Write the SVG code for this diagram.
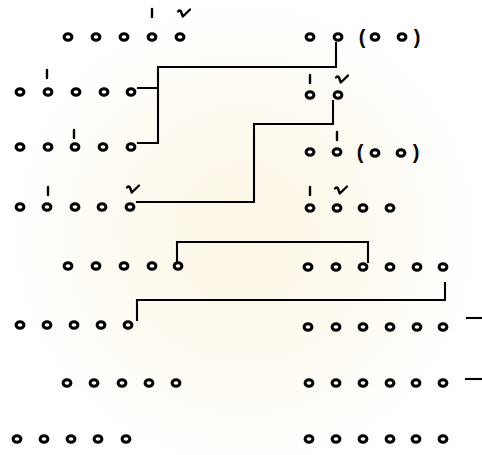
<svg xmlns="http://www.w3.org/2000/svg" width="482" height="455" viewBox="0 0 482 455">
<defs>
<style>
.c{fill:#fff;stroke:#000;stroke-width:3}
.w{fill:none;stroke:#000;stroke-width:2.1;stroke-linecap:square;stroke-linejoin:miter}
.m{fill:none;stroke:#000;stroke-width:2.4;stroke-linecap:round;stroke-linejoin:round}
.p{font-family:"Liberation Sans",Arial,sans-serif;font-size:20px;font-weight:bold;fill:#000;text-anchor:middle}
</style>
<radialGradient id="bg" cx="245" cy="235" r="240" gradientUnits="userSpaceOnUse">
<stop offset="0" stop-color="#fcf6e4"/>
<stop offset="0.6" stop-color="#fefbf3"/>
<stop offset="1" stop-color="#ffffff"/>
</radialGradient>
<ellipse id="o" class="c" rx="3.9" ry="3.3"/>
<path id="ek" class="m" d="M0,-4 V4"/>
<path id="tho" class="m" d="M-6,-1.5 Q-3.5,-4 -2.5,0 L-1.2,3.5 L6,-3.5"/>
</defs>
<rect width="482" height="455" fill="#fff"/>
<rect width="482" height="455" fill="url(#bg)"/>

<g id="connectors">
<path class="w" d="M336,43 V67 H158 V143 H138 M138,88 H158"/>
<path class="w" d="M333,101 V124 H254 V202 H137"/>
<path class="w" d="M177,261 V242 H368 V262"/>
<path class="w" d="M137,320 V300 H445 V283"/>
<path class="w" d="M467,318 H482"/>
<path class="w" d="M466,379 H482"/>
</g>

<g id="left-line-1">
<use href="#o" x="68" y="37"/><use href="#o" x="96" y="37"/><use href="#o" x="124" y="37"/><use href="#o" x="152" y="37"/><use href="#o" x="180" y="37"/>
<use href="#ek" x="152" y="13"/><use href="#tho" x="184" y="13"/>
</g>
<g id="left-line-2">
<use href="#o" x="20" y="92"/><use href="#o" x="48" y="92"/><use href="#o" x="76" y="92"/><use href="#o" x="104" y="92"/><use href="#o" x="131" y="92"/>
<use href="#ek" x="47" y="74"/>
</g>
<g id="left-line-3">
<use href="#o" x="20" y="147"/><use href="#o" x="48" y="147"/><use href="#o" x="75" y="147"/><use href="#o" x="103" y="147"/><use href="#o" x="131" y="147"/>
<use href="#ek" x="74" y="134"/>
</g>
<g id="left-line-4">
<use href="#o" x="20" y="207"/><use href="#o" x="47" y="207"/><use href="#o" x="75" y="207"/><use href="#o" x="102" y="207"/><use href="#o" x="130" y="207"/>
<use href="#ek" x="48" y="191"/><use href="#tho" x="133" y="189"/>
</g>
<g id="left-line-5">
<use href="#o" x="68" y="266"/><use href="#o" x="96" y="266"/><use href="#o" x="124" y="266"/><use href="#o" x="152" y="266"/><use href="#o" x="178" y="266"/>
</g>
<g id="left-line-6">
<use href="#o" x="20" y="325"/><use href="#o" x="47" y="325"/><use href="#o" x="74" y="325"/><use href="#o" x="101" y="325"/><use href="#o" x="128" y="325"/>
</g>
<g id="left-line-7">
<use href="#o" x="67" y="383"/><use href="#o" x="94" y="383"/><use href="#o" x="122" y="383"/><use href="#o" x="149" y="383"/><use href="#o" x="176" y="383"/>
</g>
<g id="left-line-8">
<use href="#o" x="17" y="439"/><use href="#o" x="44" y="439"/><use href="#o" x="71" y="439"/><use href="#o" x="98" y="439"/><use href="#o" x="126" y="439"/>
</g>

<g id="right-line-1">
<use href="#o" x="310" y="37"/><use href="#o" x="338" y="37"/>
<text class="p" x="362" y="44">(</text>
<use href="#o" x="375" y="37"/><use href="#o" x="402" y="37"/>
<text class="p" x="417" y="44">)</text>
</g>
<g id="right-line-2">
<use href="#o" x="310" y="95"/><use href="#o" x="338" y="95"/>
<use href="#ek" x="310" y="79"/><use href="#tho" x="342" y="79"/>
</g>
<g id="right-line-3">
<use href="#o" x="310" y="152"/><use href="#o" x="337" y="152"/>
<text class="p" x="360" y="159">(</text>
<use href="#o" x="375" y="153"/><use href="#o" x="401" y="153"/>
<text class="p" x="416" y="159">)</text>
<use href="#ek" x="337" y="136"/>
</g>
<g id="right-line-4">
<use href="#o" x="310" y="208"/><use href="#o" x="337" y="208"/><use href="#o" x="363" y="208"/><use href="#o" x="390" y="208"/>
<use href="#ek" x="310" y="191"/><use href="#tho" x="341" y="190"/>
</g>
<g id="right-line-5">
<use href="#o" x="308" y="267"/><use href="#o" x="336" y="267"/><use href="#o" x="363" y="267"/><use href="#o" x="390" y="267"/><use href="#o" x="417" y="267"/><use href="#o" x="443" y="267"/>
</g>
<g id="right-line-6">
<use href="#o" x="308" y="327"/><use href="#o" x="336" y="327"/><use href="#o" x="363" y="327"/><use href="#o" x="390" y="327"/><use href="#o" x="417" y="327"/><use href="#o" x="443" y="327"/>
</g>
<g id="right-line-7">
<use href="#o" x="309" y="383"/><use href="#o" x="336" y="383"/><use href="#o" x="363" y="383"/><use href="#o" x="390" y="383"/><use href="#o" x="416" y="383"/><use href="#o" x="443" y="383"/>
</g>
<g id="right-line-8">
<use href="#o" x="309" y="439"/><use href="#o" x="336" y="439"/><use href="#o" x="363" y="439"/><use href="#o" x="390" y="439"/><use href="#o" x="416" y="439"/><use href="#o" x="443" y="439"/>
</g>
</svg>
